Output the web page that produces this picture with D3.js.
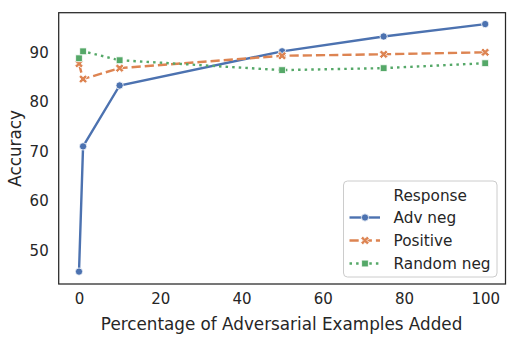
<!DOCTYPE html>
<html>
<head>
<meta charset="utf-8">
<script src="https://cdn.jsdelivr.net/npm/d3@7"></script>
<style>
  body { margin: 0; background: #fff; }
  svg { font-family: "DejaVu Sans", sans-serif; }
</style>
</head>
<body>
<svg id="chart"></svg>
<script>
// data
const xValues = [0, 1, 10, 50, 75, 100]
const advNeg = [45.7, 71.0, 83.3, 90.2, 93.2, 95.7]
const positive = [87.7, 84.6, 86.8, 89.3, 89.6, 90.0]
const randomNeg = [88.8, 90.2, 88.4, 86.4, 86.8, 87.8]
const seriesNames = ["Adv neg", "Positive", "Random neg"]
const xTicks = [0, 20, 40, 60, 80, 100]
const yTicks = [50, 60, 70, 80, 90]

const width = 517, height = 338
const margin = { top: 12.7, right: 11.5, bottom: 54, left: 58.7 }

const series = [
    { name: seriesNames[0], values: advNeg, color: "#4C72B0", dash: null, marker: "circle" },
    { name: seriesNames[1], values: positive, color: "#DD8452", dash: "9.2,4", marker: "x" },
    { name: seriesNames[2], values: randomNeg, color: "#55A868", dash: "2.5,4.1", marker: "square" }
]

const svg = d3.select("#chart").attr("width", width).attr("height", height)

const x = d3.scaleLinear().domain([-5, 105]).range([margin.left, width - margin.right])
const y = d3.scaleLinear().domain([43.2, 98.0]).range([height - margin.bottom, margin.top])

// axes (no tick marks, seaborn white style)
const xAxis = svg.append("g")
    .attr("transform", `translate(0,${height - margin.bottom})`)
    .call(d3.axisBottom(x).tickValues(xTicks).tickSize(0).tickPadding(9))
xAxis.select(".domain").remove()
xAxis.selectAll("text").attr("font-size", 15).attr("fill", "#262626").attr("font-family", "DejaVu Sans")

const yAxis = svg.append("g")
    .attr("transform", `translate(${margin.left},0)`)
    .call(d3.axisLeft(y).tickValues(yTicks).tickSize(0).tickPadding(10))
yAxis.select(".domain").remove()
yAxis.selectAll("text").attr("font-size", 15).attr("fill", "#262626").attr("font-family", "DejaVu Sans")

svg.append("text")
    .attr("x", (x.range()[0] + x.range()[1]) / 2 - 0.5)
    .attr("y", 330)
    .attr("text-anchor", "middle")
    .attr("font-size", 16.8)
    .attr("fill", "#262626")
    .text("Percentage of Adversarial Examples Added")

svg.append("text")
    .attr("transform", `translate(21,${(y.range()[0] + y.range()[1]) / 2}) rotate(-90)`)
    .attr("text-anchor", "middle")
    .attr("font-size", 16.8)
    .attr("fill", "#262626")
    .text("Accuracy")

const line = d3.line().x(d => x(d[0])).y(d => y(d[1]))

function markerPath(kind) {
    if (kind === "circle") return d3.symbol(d3.symbolCircle, 42)()
    if (kind === "square") return d3.symbol(d3.symbolSquare, 46)()
    return d3.symbol(d3.symbolCross, 46)()
}

series.forEach(s => {
    const pts = xValues.map((v, i) => [v, s.values[i]])
    svg.append("path")
        .datum(pts)
        .attr("fill", "none")
        .attr("stroke", s.color)
        .attr("stroke-width", 2.4)
        .attr("stroke-dasharray", s.dash)
        .attr("d", line)
    svg.append("g").selectAll("path")
        .data(pts)
        .join("path")
        .attr("d", markerPath(s.marker))
        .attr("transform", d => `translate(${x(d[0])},${y(d[1])})` + (s.marker === "x" ? " rotate(45)" : ""))
        .attr("fill", s.color)
        .attr("stroke", "#fff")
        .attr("stroke-width", 0.8)
})

// frame
svg.append("rect")
    .attr("x", margin.left)
    .attr("y", margin.top)
    .attr("width", width - margin.right - margin.left)
    .attr("height", height - margin.bottom - margin.top)
    .attr("fill", "none")
    .attr("stroke", "#262626")
    .attr("stroke-width", 1.25)

// legend
const legend = svg.append("g").attr("transform", "translate(343.5,181)")
legend.append("rect")
    .attr("width", 153.5)
    .attr("height", 96)
    .attr("rx", 4)
    .attr("fill", "#fff")
    .attr("fill-opacity", 0.8)
    .attr("stroke", "#cccccc")
    .attr("stroke-width", 1)
legend.append("text")
    .attr("x", 50)
    .attr("y", 19.5)
    .attr("font-size", 15.3)
    .attr("fill", "#262626")
    .text("Response")
series.forEach((s, i) => {
    const cy = 36.5 + i * 23
    legend.append("line")
        .attr("x1", 6).attr("x2", 36.5)
        .attr("y1", cy).attr("y2", cy)
        .attr("stroke", s.color)
        .attr("stroke-width", 2.4)
        .attr("stroke-dasharray", s.dash)
    legend.append("path")
        .attr("d", markerPath(s.marker))
        .attr("transform", `translate(21.5,${cy})` + (s.marker === "x" ? " rotate(45)" : ""))
        .attr("fill", s.color)
        .attr("stroke", "#fff")
        .attr("stroke-width", 0.8)
    legend.append("text")
        .attr("x", 50)
        .attr("y", cy + 5.5)
        .attr("font-size", 15.3)
        .attr("fill", "#262626")
        .text(s.name)
})
</script>
</body>
</html>
